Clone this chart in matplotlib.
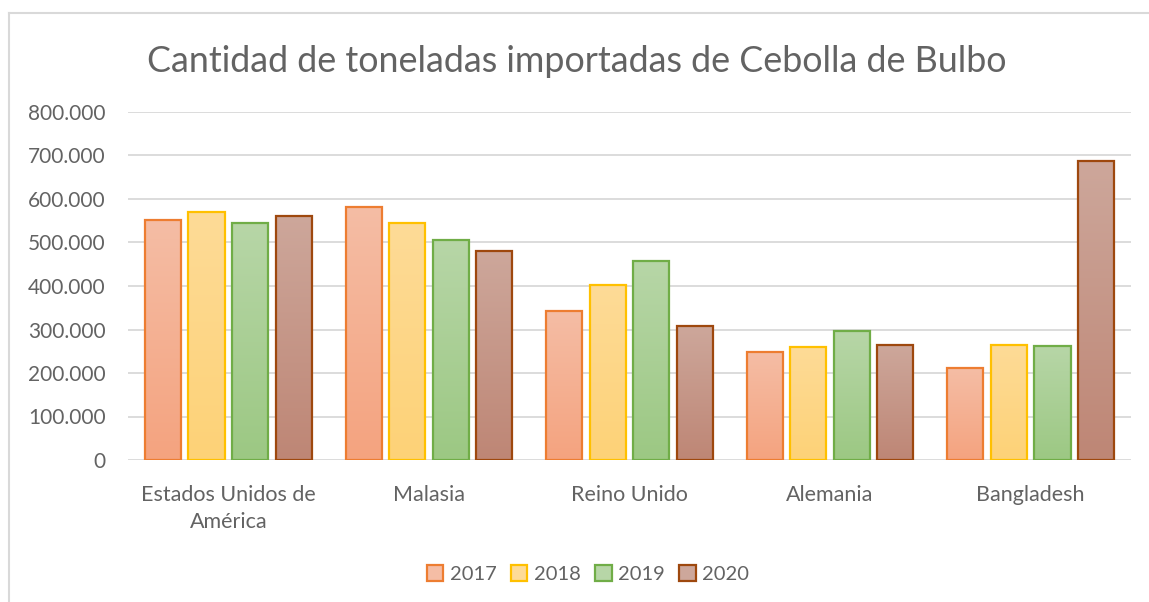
import numpy as np
import matplotlib.pyplot as plt
from matplotlib.colors import LinearSegmentedColormap
from matplotlib.ticker import FuncFormatter
from matplotlib.lines import Line2D
from matplotlib.patches import Patch

plt.rcParams['font.family'] = ['Lato', 'DejaVu Sans']

paises = ['Estados Unidos de\nAmérica', 'Malasia', 'Reino Unido', 'Alemania', 'Bangladesh']
anios = ['2017', '2018', '2019', '2020']
v2017 = [551000, 581000, 342000, 248000, 211000]
v2018 = [569000, 545000, 402000, 260000, 265000]
v2019 = [544000, 506000, 457000, 296000, 261000]
v2020 = [562000, 480000, 308000, 264000, 688000]
series = [v2017, v2018, v2019, v2020]

# (top, bottom, edge) colours for each year
colores = [('#F5BDA5', '#F4A37F', '#ED7D31'),
           ('#FEDB97', '#FDD277', '#FFC000'),
           ('#B7D6A7', '#9CC883', '#70AD47'),
           ('#CDA79B', '#BE8675', '#9E480E')]

gris = '#636363'

fig = plt.figure(figsize=(11.49, 6.02), dpi=100)
ax = fig.add_axes([128 / 1149, 1 - 460 / 602, (1131 - 128) / 1149, (460 - 112) / 602])

x = np.arange(len(paises))
ancho = 0.18
paso = 0.217
grad = np.linspace(0, 1, 256).reshape(-1, 1)

for i, (vals, (top, bot, edge)) in enumerate(zip(series, colores)):
    pos = x + (i - 1.5) * paso
    bars = ax.bar(pos, vals, width=ancho, color='none', edgecolor=edge,
                  linewidth=1.6, zorder=3)
    cmap = LinearSegmentedColormap.from_list('g%d' % i, [bot, top])
    for b in bars:
        x0, y0 = b.get_x(), b.get_y()
        im = ax.imshow(grad, cmap=cmap, origin='lower', aspect='auto',
                       extent=(x0, x0 + b.get_width(), y0, y0 + b.get_height()),
                       zorder=2)
        im.set_clip_path(b)

ax.set_xlim(-0.5, len(paises) - 0.5)
ax.set_ylim(0, 800000)
ax.set_yticks(np.arange(0, 800001, 100000))
ax.yaxis.set_major_formatter(FuncFormatter(lambda v, p: f'{int(v):,}'.replace(',', '.')))
ax.set_xticks(x)
ax.set_xticklabels(paises, linespacing=1.45)
ax.grid(axis='y', color='#D9D9D9', linewidth=1.3, zorder=0)
for s in ax.spines.values():
    s.set_visible(False)
ax.tick_params(axis='both', length=0, colors=gris)
ax.tick_params(axis='x', pad=18, labelsize=15.5)
ax.tick_params(axis='y', pad=16, labelsize=15)

fig.text(577 / 1149, 1 - 61 / 602, 'Cantidad de toneladas importadas de Cebolla de Bulbo',
         ha='center', va='center', fontsize=25.8, color=gris)

handles = [Patch(facecolor=c[0], edgecolor=c[2], linewidth=1.6) for c in colores]
fig.legend(handles, anios, loc='center', bbox_to_anchor=(588 / 1149, 1 - 574 / 602),
           ncol=4, frameon=False, fontsize=14.5, labelcolor=gris,
           handlelength=0.8, handleheight=0.8, handletextpad=0.3, columnspacing=0.75)

# chart border (top and left edges)
fig.add_artist(Line2D([9 / 1149, 9 / 1149], [0, 1 - 13 / 602], color='#D9D9D9', lw=1.5))
fig.add_artist(Line2D([9 / 1149, 1], [1 - 13 / 602, 1 - 13 / 602], color='#D9D9D9', lw=1.5))

fig.savefig('out.png', dpi=100)
